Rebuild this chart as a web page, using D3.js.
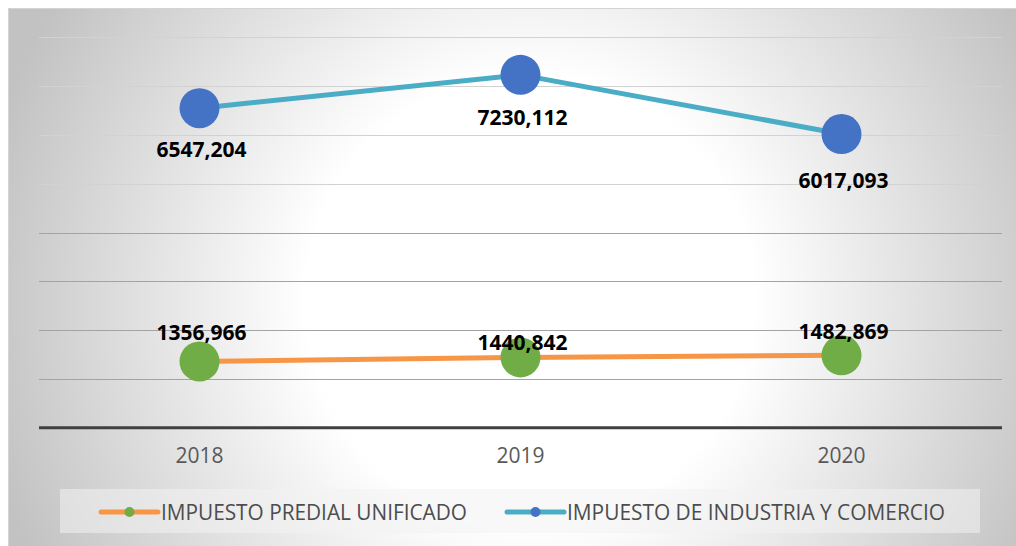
<!DOCTYPE html>
<html>
<head>
<meta charset="utf-8">
<script src="https://cdn.jsdelivr.net/npm/d3@7"></script>
<style>
  html, body { margin: 0; padding: 0; background: #fff; }
  svg { display: block; font-family: "Open Sans", sans-serif; }
</style>
</head>
<body>
<svg id="viewport" width="1016" height="546"></svg>
<script>
// chart data
const years = ['2018', '2019', '2020'];
const predial = [1356.966, 1440.842, 1482.869];
const industria = [6547.204, 7230.112, 6017.093];
const yTicks = [0, 1000, 2000, 3000, 4000, 5000, 6000, 7000, 8000];
const seriesNames = ['IMPUESTO PREDIAL UNIFICADO', 'IMPUESTO DE INDUSTRIA Y COMERCIO'];

// label nudges (the source labels were moved by hand)
const predialLabelDy = [-21, -7, -16];
const industriaLabelDy = [49, 50, 54];

const colours = {
  predialLine: '#F79646',
  predialDot: '#70AD47',
  industriaLine: '#4BACC6',
  industriaDot: '#4472C4',
};

const fmt = (v) => v.toFixed(3).replace('.', ',');

const svg = d3.select('#viewport');
const defs = svg.append('defs');

// radial background like the source
const grad = defs.append('radialGradient')
  .attr('id', 'bg')
  .attr('gradientUnits', 'userSpaceOnUse')
  .attr('cx', 530).attr('cy', 300).attr('r', 560);
grad.append('stop').attr('offset', '0').attr('stop-color', '#ffffff');
grad.append('stop').attr('offset', '0.4').attr('stop-color', '#ffffff');
grad.append('stop').attr('offset', '1').attr('stop-color', '#c2c2c2');

svg.append('rect')
  .attr('x', 8.5).attr('y', 8.5)
  .attr('width', 1010).attr('height', 540)
  .attr('fill', 'url(#bg)')
  .attr('stroke', '#d4d4d4');

const plot = { left: 39, right: 1002, top: 37.3, bottom: 427.7 };

const x = d3.scaleBand()
  .domain(years)
  .range([plot.left, plot.right]);

const y = d3.scaleLinear()
  .domain([0, 8000])
  .range([plot.bottom, plot.top]);

const cx = (d) => x(d) + x.bandwidth() / 2;

// gridlines
svg.append('g')
  .attr('class', 'grid')
  .selectAll('line')
  .data(yTicks.filter((t) => t > 0))
  .join('line')
  .attr('x1', plot.left)
  .attr('x2', plot.right)
  .attr('y1', (d) => Math.round(y(d)) + 0.5)
  .attr('y2', (d) => Math.round(y(d)) + 0.5)
  .attr('stroke', (d) => (d >= 5000 ? '#d2d2d2' : '#a3a3a3'))
  .attr('stroke-width', 1.2);

// x axis
const xAxis = svg.append('g')
  .attr('transform', `translate(0,${y(0)})`)
  .call(d3.axisBottom(x).tickSize(0).tickPadding(20));
xAxis.select('.domain')
  .attr('stroke', '#404040')
  .attr('stroke-width', 3)
  .attr('d', `M${plot.left},0H${plot.right}`);
xAxis.selectAll('text')
  .attr('font-family', '"Open Sans", sans-serif')
  .attr('font-size', 21)
  .attr('fill', '#595959');

const line = d3.line()
  .x((d, i) => cx(years[i]))
  .y((d) => y(d));

const series = [
  { values: industria, lineColour: colours.industriaLine, dotColour: colours.industriaDot, dy: industriaLabelDy },
  { values: predial, lineColour: colours.predialLine, dotColour: colours.predialDot, dy: predialLabelDy },
];

series.forEach((s) => {
  const g = svg.append('g');
  g.append('path')
    .datum(s.values)
    .attr('d', line)
    .attr('fill', 'none')
    .attr('stroke', s.lineColour)
    .attr('stroke-width', 5)
    .attr('stroke-linejoin', 'round');
  g.selectAll('circle')
    .data(s.values)
    .join('circle')
    .attr('cx', (d, i) => cx(years[i]))
    .attr('cy', (d) => y(d))
    .attr('r', 20)
    .attr('fill', s.dotColour);
  g.selectAll('text')
    .data(s.values)
    .join('text')
    .attr('x', (d, i) => cx(years[i]) + 2)
    .attr('y', (d, i) => y(d) + s.dy[i])
    .attr('text-anchor', 'middle')
    .attr('font-size', 21)
    .attr('font-weight', 700)
    .attr('fill', '#000')
    .text((d) => fmt(d));
});

// legend
const legend = svg.append('g').attr('class', 'legend');
legend.append('rect')
  .attr('x', 60).attr('y', 489)
  .attr('width', 920).attr('height', 44)
  .attr('fill', '#f2f2f2')
  .attr('fill-opacity', 0.55);

const legendItems = [
  { name: seriesNames[0], line: colours.predialLine, dot: colours.predialDot, x: 101, textLen: 306 },
  { name: seriesNames[1], line: colours.industriaLine, dot: colours.industriaDot, x: 507, textLen: 378 },
];

legend.selectAll('g.item')
  .data(legendItems)
  .join('g')
  .attr('class', 'item')
  .each((d, i, n) => {
    const item = d3.select(n[i])
      .attr('transform', `translate(${d.x},512)`);
    item.append('line')
      .attr('x1', 0).attr('x2', 57)
      .attr('stroke', d.line)
      .attr('stroke-width', 5)
      .attr('stroke-linecap', 'round');
    item.append('circle')
      .attr('cx', 28.5)
      .attr('r', 5)
      .attr('fill', d.dot);
    item.append('text')
      .attr('x', 60)
      .attr('y', 7.5)
      .attr('font-size', 21)
      .attr('fill', '#4d4d4d')
      .attr('textLength', d.textLen)
      .attr('lengthAdjust', 'spacingAndGlyphs')
      .text(d.name);
  });
</script>
</body>
</html>
